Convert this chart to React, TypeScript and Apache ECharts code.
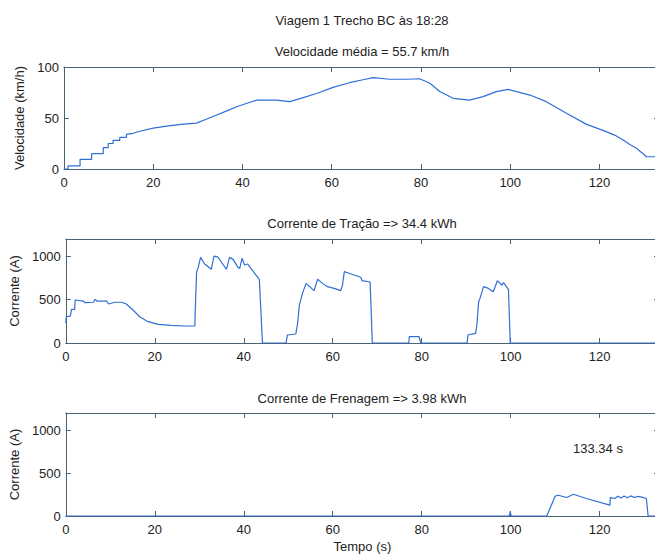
import React, { useEffect, useRef } from "react";
import * as echarts from "echarts";

// ---------- data ----------
const X_MAX = 133.34;
const xTicks = [0, 20, 40, 60, 80, 100, 120];

const titles = [
  "Viagem 1 Trecho BC às 18:28",
  "Velocidade média = 55.7 km/h",
  "Corrente de Tração => 34.4 kWh",
  "Corrente de Frenagem => 3.98 kWh",
];
const durationLabel = "133.34 s";

const speedT = [
  0, 0.9, 0.9, 3.6, 3.6, 6.2, 6.2, 8.8, 8.8, 9.9, 9.9, 11, 11, 12.5, 12.5, 14, 14, 15.5, 17, 20, 23,
  26.7, 29.7, 32, 34.2, 36.5, 38.7, 41, 43.2, 47.6, 50.6, 53.6, 56.6, 60.3, 64, 67, 69.3, 73, 76.8,
  79.7, 82, 84.2, 87.2, 90.9, 93.9, 96.9, 99.5, 101.4, 104.4, 108.1, 112.6, 117, 121.5, 123.5,
  125.3, 126.8, 128.3, 129.5, 130.5, 133.34,
];
const speedV = [
  0, 0, 3, 3, 9.5, 9.5, 15, 15, 21, 21, 25, 25, 28, 28, 31, 31, 34, 35, 37, 40, 42,
  44, 45, 49, 53, 57, 61, 64.5, 67.5, 67.5, 66, 70, 74, 80, 84.6, 87.5, 89.5, 88, 88,
  88.5, 84, 76, 69.3, 67.6, 71, 75.8, 78, 75.8, 72.5, 66, 54.6, 44, 36.6, 33,
  28.4, 24, 20.3, 16, 12, 12,
];

const tractionT = [
  0, 0.1, 1, 1.3, 2, 2.1, 3.9, 4.3, 6.2, 6.6, 7, 9.2, 9.6, 11, 12.5, 13.6, 15.1, 16.6, 18.5, 20.8,
  23.7, 26.7, 29, 29.1, 29.4, 29.7, 30.3, 31.2, 32.7, 33.3, 34.2, 35.7, 36.1, 36.8, 37.6, 38.7,
  39.1, 39.6, 40.2, 40.9, 41.6, 43.5, 44.2, 49.5, 49.8, 51.7, 52.1, 52.5, 53.2, 54, 55.8, 56.6,
  57.7, 58.8, 60.3, 61.8, 62.2, 62.6, 63.3, 66.3, 66.6, 68.4, 68.9, 77.1, 77.2, 79.4, 79.8,
  90.2, 90.4, 92.1, 92.4, 92.8, 93.1, 93.9, 95, 96.1, 97, 98, 98.4, 99.5, 99.9, 133.34,
];
const tractionA = [
  227, 303, 311, 389, 389, 496, 484, 465, 470, 504, 484, 484, 450, 470, 470, 450, 381, 303, 246, 215,
  204, 196, 196, 381, 823, 861, 988, 911, 850, 1003, 990, 880, 850, 988, 965, 873,
  861, 977, 900, 911, 861, 735, 0, 0, 92, 104, 227, 438, 573, 688, 604, 735,
  688, 650, 630, 604, 669, 823, 811, 758, 719, 704, 0, 0, 73, 73, 0,
  0, 92, 112, 208, 477, 515, 650, 630, 592, 719, 669, 696, 619, 0, 0,
];

const brakingT = [
  0, 99.7, 99.9, 100.1, 108.1, 110, 110.7, 112.6, 114.1, 117, 122.3, 122.4, 123.4, 124.1, 124.8,
  125.5, 126.2, 127, 127.8, 128.6, 129.5, 130.5, 130.9, 133.34,
];
const brakingA = [
  0, 0, 50, 0, 0, 231, 242, 215, 254, 204, 127, 215, 204, 231, 210, 232, 212, 234, 215, 228, 220, 204, 0, 0,
];

// ---------- styles ----------
const AXIS_COLOR = "#4a6572";
const LINE_COLOR = "#2f6fd6";
const TEXT_COLOR = "#222";
const FONT = '"Liberation Sans", Arial, sans-serif';

const zip = (t: number[], v: number[]) => t.map((x, i) => [x, v[i]]);

const grids = [
  { left: 64, top: 67, width: 596, height: 102 },
  { left: 64, top: 239, width: 596, height: 104 },
  { left: 64, top: 413, width: 596, height: 103 },
];

const yConf = [
  { max: 100, interval: 50, name: "Velocidade (km/h)", nameGap: 30 },
  { max: 1200, interval: 500, name: "Corrente (A)", nameGap: 38 },
  { max: 1200, interval: 500, name: "Corrente (A)", nameGap: 38 },
];

export default function App() {
  const ref = useRef<HTMLDivElement>(null);

  useEffect(() => {
    if (!ref.current) return;
    const chart = echarts.init(ref.current, undefined, { renderer: "svg" });

    const xAxis: any[] = [];
    const yAxis: any[] = [];
    grids.forEach((_, i) => {
      const lineStyle = { color: AXIS_COLOR, width: 1 };
      const base = {
        type: "value",
        gridIndex: i,
        min: 0,
        max: X_MAX,
        interval: 20,
        axisLine: { show: true, onZero: false, lineStyle },
        axisTick: { show: true, inside: true, length: 5, lineStyle },
        splitLine: { show: false },
      };
      xAxis.push({
        ...base,
        position: "bottom",
        axisLabel: {
          margin: 7,
          color: TEXT_COLOR,
          fontSize: 13,
          fontFamily: FONT,
          formatter: (v: number) => (xTicks.includes(v) ? String(v) : ""),
        },
        ...(i === 2
          ? {
              name: "Tempo (s)",
              nameLocation: "middle",
              nameGap: 24,
              nameTextStyle: { color: TEXT_COLOR, fontSize: 13, fontFamily: FONT },
            }
          : {}),
      });
      xAxis.push({ ...base, position: "top", axisLabel: { show: false } });

      const yc = yConf[i];
      const ybase = {
        type: "value",
        gridIndex: i,
        min: 0,
        max: yc.max,
        interval: yc.interval,
        axisLine: { show: true, onZero: false, lineStyle },
        axisTick: { show: true, inside: true, length: 5, lineStyle },
        splitLine: { show: false },
      };
      yAxis.push({
        ...ybase,
        position: "left",
        name: yc.name,
        nameLocation: "middle",
        nameGap: yc.nameGap,
        nameTextStyle: { color: TEXT_COLOR, fontSize: 13, fontFamily: FONT },
        axisLabel: {
          margin: 5,
          color: TEXT_COLOR,
          fontSize: 13,
          fontFamily: FONT,
          formatter: (v: number) => (v % yc.interval === 0 ? String(v) : ""),
        },
      });
      yAxis.push({ ...ybase, position: "right", axisLabel: { show: false } });
    });

    const mkSeries = (i: number, data: number[][]) => ({
      type: "line",
      xAxisIndex: 2 * i,
      yAxisIndex: 2 * i,
      data,
      showSymbol: false,
      symbol: "none",
      lineStyle: { color: LINE_COLOR, width: 1.2 },
      clip: true,
    });

    const cx = 362;
    const titleStyle = (text: string, y: number) => ({
      type: "text",
      x: cx,
      y,
      style: {
        text,
        fill: TEXT_COLOR,
        font: `13px ${FONT}`,
        textAlign: "center",
        textVerticalAlign: "middle",
      },
    });

    chart.setOption({
      animation: false,
      backgroundColor: "#fff",
      grid: grids.map((g) => ({ ...g, containLabel: false })),
      xAxis,
      yAxis,
      series: [
        mkSeries(0, zip(speedT, speedV)),
        mkSeries(1, zip(tractionT, tractionA)),
        mkSeries(2, zip(brakingT, brakingA)),
      ],
      graphic: [
        titleStyle(titles[0], 20),
        titleStyle(titles[1], 51),
        titleStyle(titles[2], 223),
        titleStyle(titles[3], 398),
        {
          type: "text",
          x: 598,
          y: 448,
          style: {
            text: durationLabel,
            fill: TEXT_COLOR,
            font: `13px ${FONT}`,
            textAlign: "center",
            textVerticalAlign: "middle",
          },
        },
      ],
    });
    return () => chart.dispose();
  }, []);

  return (
    <div
      style={{
        position: "fixed",
        left: 0,
        top: 0,
        width: 655,
        height: 555,
        overflow: "hidden",
        background: "#fff",
      }}
    >
      <div ref={ref} style={{ width: 662, height: 555 }} />
    </div>
  );
}
